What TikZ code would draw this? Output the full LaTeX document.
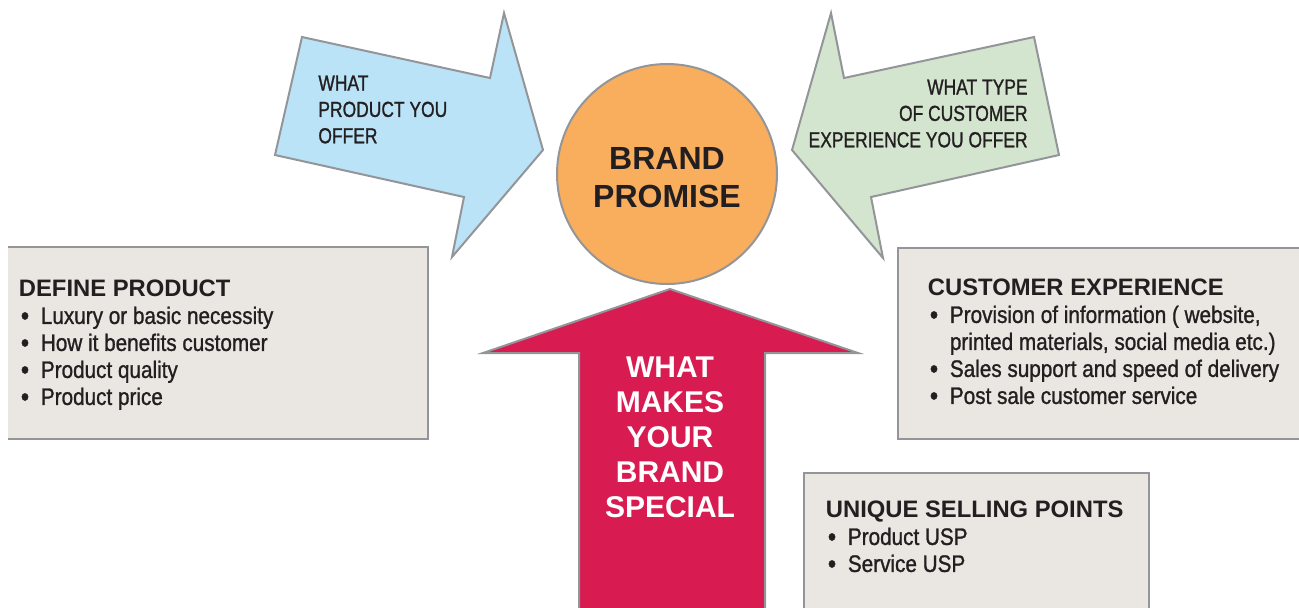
\documentclass[tikz,border=0pt]{standalone}
\usepackage{fontspec}
\setmainfont{Liberation Sans}
\newfontfamily\bodyfont[FakeStretch=0.87,FakeBold=1.1]{Liberation Sans}
\newfontfamily\arrowfont[FakeStretch=0.8,FakeBold=1.1]{Liberation Sans}
\usetikzlibrary{positioning}
\definecolor{edgegray}{RGB}{147,149,152}
\definecolor{boxgray}{RGB}{234,230,226}
\definecolor{textdark}{RGB}{35,31,32}
\definecolor{offerblue}{RGB}{186,227,247}
\definecolor{offergreen}{RGB}{212,229,207}
\definecolor{promiseorange}{RGB}{248,174,93}
\definecolor{specialred}{RGB}{216,28,82}
\newcommand\bul{\hspace*{1pt}\makebox[10pt][l]{\raisebox{-0.5pt}[0pt][0pt]{\fontsize{13.5}{13.5}\selectfont\textbullet}}}
\newcommand\boxhead[1]{{\rmfamily\bfseries #1}}
\tikzset{
  frame/.style={draw=edgegray, line width=1pt},
  infobox/.style={fill=boxgray, rectangle, inner sep=0pt, anchor=north west},
  infotext/.style={inner sep=0pt, anchor=north west, text=textdark,
    font=\bodyfont\fontsize{11.9}{13.5}\selectfont},
  arrowtext/.style={inner sep=0pt, text=textdark,
    font=\arrowfont\fontsize{10.9}{13.2}\selectfont}
}

\begin{document}
\begin{tikzpicture}[x=0.5pt, y=-0.5pt]
  \useasboundingbox (0,0) rectangle (1299,607);

  % arrows into the promise:
  \draw [frame, fill=offerblue] (302,37) -- (490,78) -- (504,13) -- (543,150)
    -- (452,257) -- (464,197) -- (275,155) -- cycle;
  \draw [frame, fill=offergreen] (1034,37) -- (844,78) -- (831,13) -- (792,150)
    -- (883,258) -- (871,197) -- (1059,155) -- cycle;
  \draw [frame, fill=specialred] (670,289) -- (858,353) -- (765,353) -- (765,620)
    -- (579,620) -- (579,353) -- (483,353) -- cycle;

  \node [arrowtext, anchor=west, align=left] (product) at (318,109.5)
    {WHAT\\PRODUCT YOU\\OFFER};
  \node [arrowtext, anchor=east, align=right] (experience) at (1028,113.5)
    {WHAT TYPE\\OF CUSTOMER\\EXPERIENCE YOU OFFER};
  \node [inner sep=0pt, align=center, text=white,
    font=\bfseries\fontsize{15}{17.5}\selectfont] (special) at (670,437.5)
    {WHAT\\MAKES\\YOUR\\BRAND\\SPECIAL};

  \node [frame, fill=promiseorange, circle, minimum size=110pt, inner sep=0pt]
    (promise) at (667,174) {};
  \node [inner sep=0pt, align=center, text=textdark,
    font=\bfseries\fontsize{16}{19}\selectfont] (promisetext) at (667,177.5)
    {BRAND\\PROMISE};

  % boxes:
  \node [infobox, minimum width=209.5pt, minimum height=95.5pt] (define) at (8,247) {};
  \draw [frame] (define.north west) -- (define.north east) -- (define.south east)
    -- (define.south west);
  \node [infobox, frame, minimum width=210pt, minimum height=95.5pt] (custexp) at (897,247) {};
  \node [infobox, frame, minimum width=172.5pt, minimum height=80pt] (usp) at (803,472) {};

  \node [infotext] (definetext) at (18.5,277.6) {\begin{tabular}{@{}l@{}}
    \boxhead{DEFINE PRODUCT}\\
    \bul Luxury or basic necessity\\
    \bul How it benefits customer\\
    \bul Product quality\\
    \bul Product price
  \end{tabular}};
  \node [infotext] (custexptext) at (927.5,276.6) {\begin{tabular}{@{}l@{}}
    \boxhead{CUSTOMER EXPERIENCE}\\
    \bul Provision of information ( website,\\
    \hspace*{11pt}printed materials, social media etc.)\\
    \bul Sales support and speed of delivery\\
    \bul Post sale customer service
  \end{tabular}};
  \node [infotext] (usptext) at (825.5,498.6) {\begin{tabular}{@{}l@{}}
    \boxhead{UNIQUE SELLING POINTS}\\
    \bul Product USP\\
    \bul Service USP
  \end{tabular}};
\end{tikzpicture}
\end{document}
